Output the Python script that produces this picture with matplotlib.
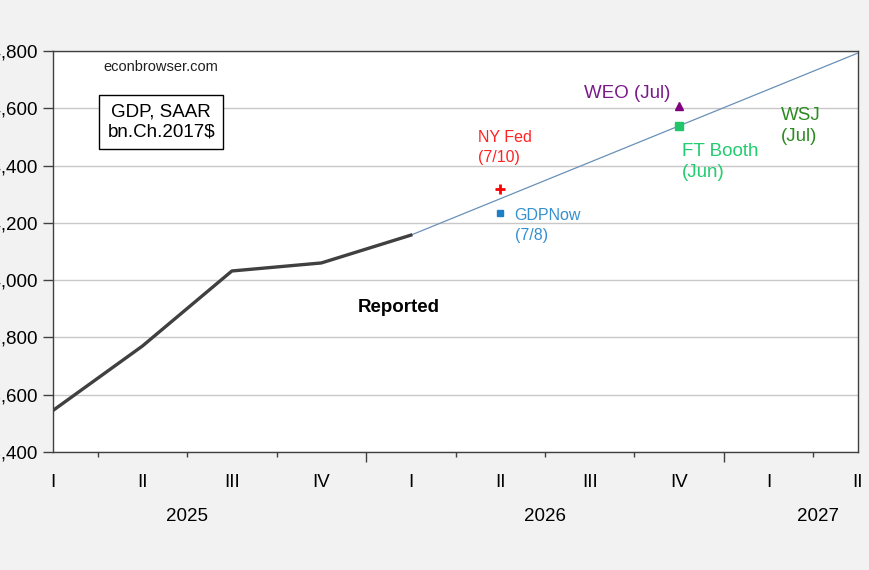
import matplotlib
matplotlib.use("Agg")
import matplotlib.pyplot as plt
from matplotlib.ticker import FuncFormatter
import matplotlib.transforms as mtransforms

plt.rcParams['font.family'] = ['Liberation Sans', 'DejaVu Sans']

# ---- data ----
quarter_labels = ["I", "II", "III", "IV", "I", "II", "III", "IV", "I", "II"]
year_labels = ["2025", "2026", "2027"]
year_pos = [1.5, 5.5, 8.55]

reported_q = [0, 1, 2, 3, 4]
reported = [23545, 23770, 24032, 24060, 24157]

trend_q = [4, 9]
trend = [24157, 24793]

nyfed_q, nyfed = [5], [24318]
gdpnow_q, gdpnow = [5], [24234]
weo_q, weo = [7], [24608]
ftbooth_q, ftbooth = [7], [24538]

yticks = [23400, 23600, 23800, 24000, 24200, 24400, 24600, 24800]

# ---- figure ----
fig = plt.figure(figsize=(8.7, 5.7), dpi=100, facecolor="#f2f2f2")
ax = fig.add_axes([53/870, 1-452/570, 805/870, 401/570])
ax.set_facecolor("white")

ax.set_xlim(0, 9)
ax.set_ylim(23400, 24800)

ax.set_yticks(yticks)
ax.yaxis.set_major_formatter(FuncFormatter(lambda v, p: f"{int(v):,}"))
ax.tick_params(axis="y", length=7, width=1, color="#404040", pad=4, labelsize=13.5)
ax.grid(axis="y", color="#c8c8c8", linewidth=1)
ax.set_axisbelow(True)

ax.set_xticks(range(10))
ax.set_xticklabels(quarter_labels)
ax.tick_params(axis="x", which="major", length=0, pad=16, labelsize=13.5)
ax.set_xticks([0.5, 1.5, 2.5, 4.5, 5.5, 6.5, 8.5], minor=True)
ax.tick_params(axis="x", which="minor", length=3.5, width=1, color="#404040")

sec = ax.secondary_xaxis("bottom")
sec.set_xticks([3.5, 7.5])
sec.set_xticklabels(["", ""])
sec.tick_params(length=7, width=1, color="#404040")
for s in sec.spines.values():
    s.set_visible(False)

for s in ax.spines.values():
    s.set_color("#404040")
    s.set_linewidth(1)

trans = mtransforms.blended_transform_factory(ax.transData, ax.transAxes)
for yl, xp in zip(year_labels, year_pos):
    ax.text(xp, -0.16, yl, transform=trans, ha="center", va="center", fontsize=13.5)

# lines
ax.plot(trend_q, trend, color="#6a90b8", linewidth=0.9, zorder=3)
ax.plot(reported_q, reported, color="#404040", linewidth=2.4, zorder=4)

# markers
ax.plot(nyfed_q, nyfed, marker="+", color="#ff0000", markersize=7, mew=2, linestyle="none", zorder=5)
ax.plot(gdpnow_q, gdpnow, marker="s", color="#1f7fc4", markersize=4.5, linestyle="none", zorder=5)
ax.plot(weo_q, weo, marker="^", color="#800080", markersize=5.5, linestyle="none", zorder=5)
ax.plot(ftbooth_q, ftbooth, marker="s", color="#22c66a", markersize=5.5, linestyle="none", zorder=5)

# annotations
ax.text(1.2, 24744, "econbrowser.com", ha="center", va="center", fontsize=10.5, color="#202020")
ax.text(1.21, 24552, "GDP, SAAR\nbn.Ch.2017$", ha="center", va="center", fontsize=13.5,
        linespacing=1.25,
        bbox=dict(boxstyle="square,pad=0.45", facecolor="white", edgecolor="black", linewidth=1))
ax.text(3.87, 23903, "Reported", ha="center", va="center", fontsize=13.5, fontweight="bold")
ax.text(4.75, 24462, "NY Fed\n(7/10)", ha="left", va="center", fontsize=11.5, color="#ff2222", linespacing=1.4)
ax.text(5.16, 24192, "GDPNow\n(7/8)", ha="left", va="center", fontsize=11.5, color="#3590d0", linespacing=1.4)
ax.text(5.935, 24650, "WEO (Jul)", ha="left", va="center", fontsize=13.5, color="#7a1a8a")
ax.text(7.03, 24412, "FT Booth\n(Jun)", ha="left", va="center", fontsize=13.5, color="#22cc70", linespacing=1.35)
ax.text(8.14, 24538, "WSJ\n(Jul)", ha="left", va="center", fontsize=13.5, color="#2e8b22", linespacing=1.35)

fig.savefig("out.png", dpi=100, facecolor=fig.get_facecolor())
